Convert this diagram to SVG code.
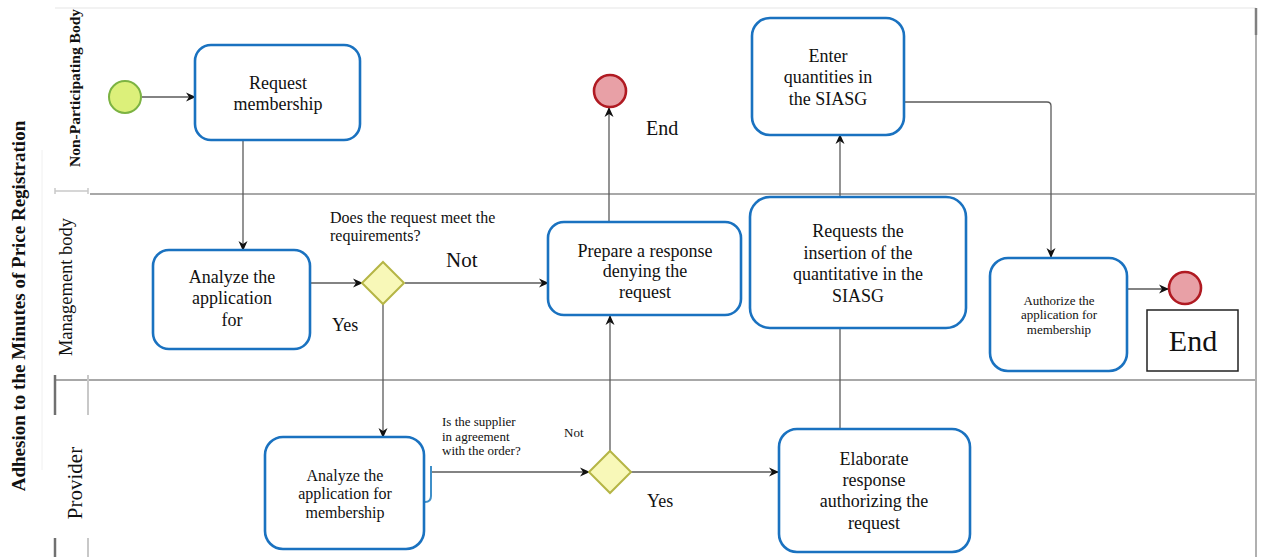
<svg xmlns="http://www.w3.org/2000/svg" width="1264" height="557" viewBox="0 0 1264 557">
<style>
  text { font-family: "Liberation Serif", "Times New Roman", serif; fill: #111; }
  .box { fill: #fff; stroke: #1a72c0; stroke-width: 2.6; }
  .t18 { font-size: 18px; text-anchor: middle; }
  .t16 { font-size: 16px; text-anchor: middle; }
  .t13 { font-size: 13px; text-anchor: middle; }
  .conn { fill: none; stroke: #5a5a5a; stroke-width: 1.3; }
  .lane { stroke: #a8a8a8; stroke-width: 2; fill: none; }
  .gate { fill: #f8f8b8; stroke: #b5b545; stroke-width: 2; }
  .endev { fill: #e8a0a6; stroke: #b01a22; stroke-width: 2.6; }
</style>
<defs>
  <marker id="arr" viewBox="0 0 10 10" refX="9" refY="5" markerWidth="10" markerHeight="10" markerUnits="userSpaceOnUse" orient="auto">
    <path d="M0,0.5 L10,5 L0,9.5 L3,5 z" fill="#111"/>
  </marker>
</defs>
<rect x="0" y="0" width="1264" height="557" fill="#fff"/>

<g id="pool">
  <line x1="55" y1="8" x2="1256" y2="8" stroke="#eeeeee" stroke-width="1.5"/>
  <line x1="42" y1="150" x2="42" y2="470" stroke="#f0f0f0" stroke-width="1"/>
  <line class="lane" x1="90" y1="194" x2="1256" y2="194"/>
  <line x1="55" y1="191" x2="88" y2="191" stroke="#c8c8c8" stroke-width="1.5"/>
  <line x1="55" y1="188" x2="55" y2="194" stroke="#c8c8c8" stroke-width="1.5"/>
  <line x1="88" y1="188" x2="88" y2="194" stroke="#c8c8c8" stroke-width="1.5"/>
  <line class="lane" x1="55" y1="380" x2="1256" y2="380"/>
  <line x1="55" y1="375" x2="55" y2="415" stroke="#707070" stroke-width="2.5"/>
  <line x1="55" y1="538" x2="55" y2="557" stroke="#707070" stroke-width="2.5"/>
  <line x1="88" y1="375" x2="88" y2="415" stroke="#c8c8c8" stroke-width="2"/>
  <line x1="88" y1="538" x2="88" y2="557" stroke="#c8c8c8" stroke-width="2"/>
  <line x1="1256" y1="8" x2="1256" y2="557" stroke="#b0b0b0" stroke-width="2"/>
  <line x1="1256" y1="8" x2="1256" y2="35" stroke="#808080" stroke-width="2.5"/>
  <text transform="translate(25,306) rotate(-90)" style="font-size:19px;font-weight:bold;text-anchor:middle">Adhesion to the Minutes of Price Registration</text>
  <text transform="translate(80,88) rotate(-90)" style="font-size:15.5px;font-weight:bold;text-anchor:middle">Non-Participating Body</text>
  <text transform="translate(72,287) rotate(-90)" style="font-size:18.5px;text-anchor:middle">Management body</text>
  <text transform="translate(82,483) rotate(-90)" style="font-size:21px;text-anchor:middle">Provider</text>
</g>

<g id="connectors">
  <line class="conn" x1="142" y1="97" x2="195" y2="97" marker-end="url(#arr)"/>
  <line class="conn" x1="243" y1="140" x2="243" y2="250" marker-end="url(#arr)"/>
  <line class="conn" x1="310" y1="283" x2="362" y2="283" marker-end="url(#arr)"/>
  <line class="conn" x1="405" y1="283" x2="548" y2="283" marker-end="url(#arr)"/>
  <line class="conn" x1="609" y1="222" x2="609" y2="108" marker-end="url(#arr)"/>
  <line class="conn" x1="383" y1="304" x2="383" y2="437" marker-end="url(#arr)"/>
  <line class="conn" x1="431" y1="472" x2="589" y2="472" marker-end="url(#arr)"/>
  <line class="conn" x1="610" y1="451" x2="610" y2="316" marker-end="url(#arr)"/>
  <line class="conn" x1="631" y1="472" x2="778" y2="472" marker-end="url(#arr)"/>
  <line class="conn" x1="840" y1="429" x2="840" y2="328"/>
  <line class="conn" x1="840" y1="197" x2="840" y2="135" marker-end="url(#arr)"/>
  <path class="conn" d="M904,102 L1047,102 Q1051,102 1051,106 L1051,257" marker-end="url(#arr)"/>
  <line class="conn" x1="1127" y1="289" x2="1168" y2="289" marker-end="url(#arr)"/>
</g>

<g id="start">
  <circle cx="125" cy="97" r="16" fill="#dcf07a" stroke="#7cb342" stroke-width="2"/>
</g>

<g id="request-membership">
  <rect class="box" x="195" y="45" width="165" height="95" rx="16"/>
  <text class="t18" x="278" y="89">Request</text>
  <text class="t18" x="278" y="110">membership</text>
</g>

<g id="analyze-application">
  <rect class="box" x="153" y="250" width="157" height="99" rx="16"/>
  <text class="t18" x="232" y="283">Analyze the</text>
  <text class="t18" x="232" y="304">application</text>
  <text class="t18" x="232" y="326">for</text>
</g>

<g id="gateway-requirements">
  <polygon class="gate" points="383,262 404,283 383,304 362,283"/>
  <text x="330" y="223" style="font-size:16px">Does the request meet the</text>
  <text x="330" y="241" style="font-size:16px">requirements?</text>
  <text x="446" y="267" style="font-size:21px">Not</text>
  <text x="332" y="331" style="font-size:18px">Yes</text>
</g>

<g id="prepare-denial">
  <rect class="box" x="548" y="222" width="193" height="93" rx="16"/>
  <text class="t18" x="645" y="257">Prepare a response</text>
  <text class="t18" x="645" y="277">denying the</text>
  <text class="t18" x="645" y="298">request</text>
</g>

<g id="end-top">
  <circle class="endev" cx="610" cy="91" r="16"/>
  <text x="646" y="135" style="font-size:20px">End</text>
</g>

<g id="analyze-membership">
  <path d="M431,466 L431,496 Q431,502 425,502" fill="none" stroke="#3f8fc8" stroke-width="2"/>
  <rect class="box" x="265" y="437" width="159" height="112" rx="18"/>
  <text class="t16" x="345" y="481">Analyze the</text>
  <text class="t16" x="345" y="499">application for</text>
  <text class="t16" x="345" y="518">membership</text>
</g>

<g id="gateway-supplier">
  <polygon class="gate" points="610,451 631,472 610,493 589,472"/>
  <text x="442" y="426" style="font-size:13px">Is the supplier</text>
  <text x="442" y="441" style="font-size:13px">in agreement</text>
  <text x="442" y="455" style="font-size:13px">with the order?</text>
  <text x="564" y="437" style="font-size:13px">Not</text>
  <text x="647" y="507" style="font-size:18px">Yes</text>
</g>

<g id="elaborate-authorization">
  <rect class="box" x="779" y="429" width="191" height="123" rx="18"/>
  <text class="t18" x="874" y="465">Elaborate</text>
  <text class="t18" x="874" y="486">response</text>
  <text class="t18" x="874" y="507">authorizing the</text>
  <text class="t18" x="874" y="529">request</text>
</g>

<g id="requests-insertion">
  <rect class="box" x="750" y="197" width="216" height="131" rx="20"/>
  <text class="t18" x="858" y="237">Requests the</text>
  <text class="t18" x="858" y="259">insertion of the</text>
  <text class="t18" x="858" y="280">quantitative in the</text>
  <text class="t18" x="858" y="302">SIASG</text>
</g>

<g id="enter-quantities">
  <rect class="box" x="752" y="18" width="152" height="117" rx="18"/>
  <text class="t18" x="828" y="62">Enter</text>
  <text class="t18" x="828" y="83">quantities in</text>
  <text class="t18" x="828" y="105">the SIASG</text>
</g>

<g id="authorize-membership">
  <rect class="box" x="990" y="258" width="137" height="113" rx="18"/>
  <text class="t13" x="1059" y="305">Authorize the</text>
  <text class="t13" x="1059" y="319">application for</text>
  <text class="t13" x="1059" y="334">membership</text>
</g>

<g id="end-right">
  <circle class="endev" cx="1185" cy="288" r="16"/>
  <rect x="1147" y="310" width="91" height="61" fill="#fff" stroke="#222" stroke-width="1.5"/>
  <text x="1193" y="351" style="font-size:30px;text-anchor:middle">End</text>
</g>
</svg>
